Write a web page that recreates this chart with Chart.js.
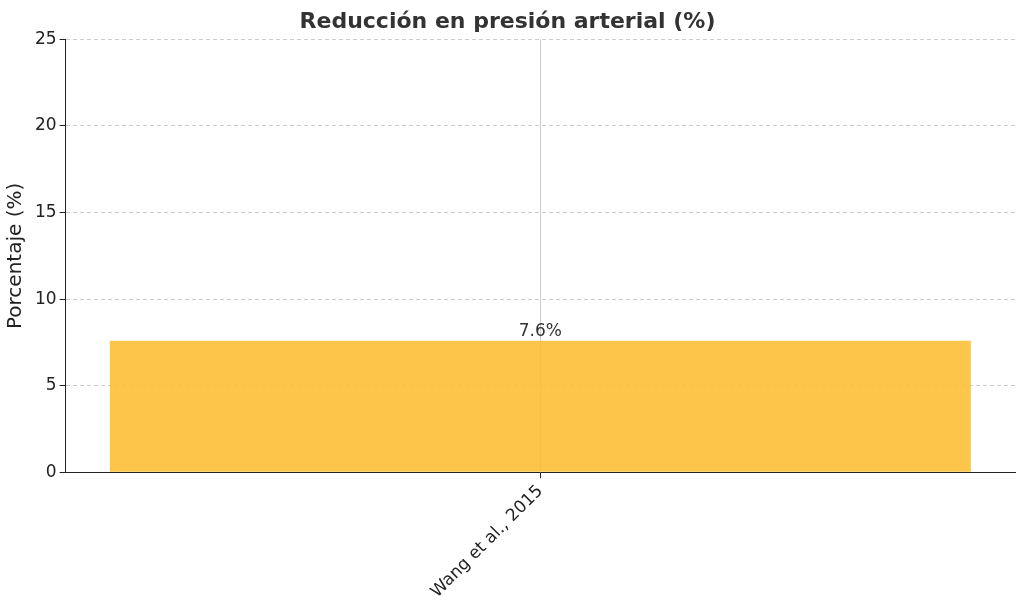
<!DOCTYPE html>
<html><head><meta charset="utf-8">
<script src="https://cdn.jsdelivr.net/npm/chart.js@4/dist/chart.umd.min.js"></script>
<style>body{margin:0;background:#fff}#w{width:1024px;height:611px}</style>
</head><body><div id="w"><canvas id="c"></canvas></div>
<script>
const categories = ["Wang et al., 2015"];
const values = [7.6];
const yTicks = [0, 5, 10, 15, 20, 25];

const labelPlugin = {
  id: 'lbl',
  afterDatasetsDraw(chart) {
    const ctx = chart.ctx;
    chart.getDatasetMeta(0).data.forEach((b, i) => {
      ctx.save();
      ctx.font = '17px "DejaVu Sans"';
      ctx.fillStyle = '#333';
      ctx.textAlign = 'center';
      ctx.textBaseline = 'bottom';
      ctx.fillText(values[i] + '%', b.x, b.y - 1);
      ctx.restore();
    });
  }
};

new Chart(document.getElementById('c'), {
  type: 'bar',
  data: { labels: categories, datasets: [{ data: values, backgroundColor: 'rgba(253,190,50,0.88)', categoryPercentage: 0.907, barPercentage: 1 }] },
  options: {
    responsive: true, maintainAspectRatio: false, animation: false,
    layout: { padding: { left: 0, right: 9, top: 2, bottom: 6 } },
    plugins: {
      legend: { display: false }, tooltip: { enabled: false },
      title: { display: true, text: 'Reducción en presión arterial (%)', color: '#333',
        font: { family: '"DejaVu Sans"', size: 22, weight: 'bold' }, padding: { top: 7, bottom: 4 } }
    },
    scales: {
      x: { z: 1,
        grid: { offset: false, color: '#ccc', tickColor: '#222', tickLength: 6 },
        border: { color: '#222' },
        ticks: { color: '#222', font: { family: '"DejaVu Sans"', size: 17 }, minRotation: 45, maxRotation: 45 } },
      y: { z: 1, min: 0, max: 25,
        afterBuildTicks: a => { a.ticks = yTicks.map(v => ({ value: v })); },
        grid: { color: '#ccc', tickColor: '#222', tickLength: 6 },
        border: { color: '#222', dash: [4, 3] },
        title: { display: true, text: 'Porcentaje (%)', color: '#222', font: { family: '"DejaVu Sans"', size: 20 } },
        ticks: { color: '#222', font: { family: '"DejaVu Sans"', size: 17 } } }
    }
  },
  plugins: [labelPlugin]
});
</script></body></html>
